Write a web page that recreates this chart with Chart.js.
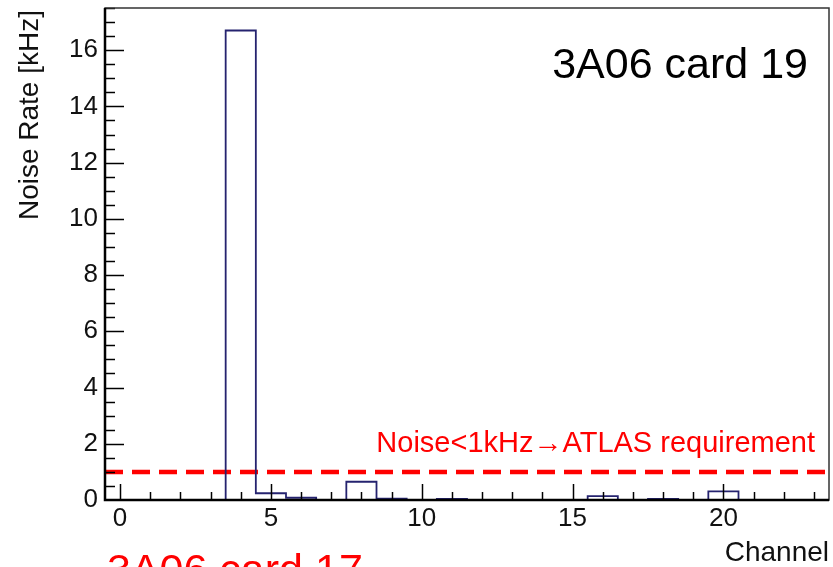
<!DOCTYPE html>
<html>
<head>
<meta charset="utf-8">
<script src="https://cdn.jsdelivr.net/npm/chart.js@4/dist/chart.umd.min.js"></script>
<style>
  body { margin: 0; background: #fff; }
  canvas { display: block; }
</style>
</head>
<body>
<canvas id="noiseChart" width="833" height="567"></canvas>
<script>
// noise rate per channel, 3A06 card 19
const channels = [0, 1, 2, 3, 4, 5, 6, 7, 8, 9, 10, 11, 12, 13, 14, 15, 16, 17, 18, 19, 20, 21, 22, 23];
const noiseRates = [0, 0, 0, 0, 16.7, 0.24, 0.08, 0, 0.65, 0.05, 0, 0.04, 0, 0, 0, 0, 0.14, 0, 0.04, 0, 0.31, 0, 0, 0];
const requirement = 1; // kHz
const xRange = [-0.5, 23.5];
const yRange = [0, 17.5];

const FONT = '"Liberation Sans", Arial, Helvetica, sans-serif';

// histogram outline: left edge of every bin + right edge of the last one
const histPoints = channels.map((c, i) => ({ x: c - 0.5, y: noiseRates[i] }));
histPoints.push({ x: channels[channels.length - 1] + 0.5, y: noiseRates[noiseRates.length - 1] });

// ROOT-like frame, inner ticks and free text
const rootStyle = {
  id: 'rootStyle',
  afterDraw(chart) {
    const { ctx, chartArea: a, scales: { x, y } } = chart;
    ctx.save();
    ctx.strokeStyle = '#000';
    ctx.lineWidth = 1.5;

    // x ticks, major every 5 and minor every 1
    for (let v = 0; v <= xRange[1]; v++) {
      const px = Math.round(x.getPixelForValue(v)) + 0.5;
      const len = v % 5 === 0 ? 16 : 8;
      ctx.beginPath();
      ctx.moveTo(px, a.bottom);
      ctx.lineTo(px, a.bottom - len);
      ctx.stroke();
    }
    // y ticks, major every 2 and minor every 0.5
    for (let v = 0.5; v <= yRange[1]; v += 0.5) {
      const py = Math.round(y.getPixelForValue(v)) + 0.5;
      const len = v % 2 === 0 ? 19 : 10;
      ctx.beginPath();
      ctx.moveTo(a.left, py);
      ctx.lineTo(a.left + len, py);
      ctx.stroke();
    }

    // frame
    ctx.lineWidth = 1.5;
    ctx.strokeStyle = '#333';
    ctx.strokeRect(a.left, a.top, a.right - a.left, a.bottom - a.top);
    ctx.lineWidth = 2.5;
    ctx.strokeStyle = '#000';
    ctx.beginPath();
    ctx.moveTo(a.left, a.top);
    ctx.lineTo(a.left, a.bottom);
    ctx.lineTo(a.right, a.bottom);
    ctx.stroke();

    // axis titles
    ctx.fillStyle = '#111';
    ctx.font = '28px ' + FONT;
    ctx.textAlign = 'right';
    ctx.textBaseline = 'alphabetic';
    ctx.fillText('Channel', a.right, 561);
    ctx.save();
    ctx.translate(38, a.top + 2);
    ctx.rotate(-Math.PI / 2);
    ctx.fillText('Noise Rate [kHz]', 0, 0);
    ctx.restore();

    // labels
    ctx.font = '43px ' + FONT;
    ctx.fillStyle = '#000';
    ctx.textAlign = 'right';
    ctx.fillText('3A06 card 19', 808, 78);

    ctx.fillStyle = '#ff0000';
    ctx.font = '29px ' + FONT;
    ctx.fillText('Noise<1kHz\u2192ATLAS requirement', 815, 452);

    ctx.font = '43px ' + FONT;
    ctx.textAlign = 'left';
    ctx.fillText('3A06 card 17', 107, 584);
    ctx.restore();
  }
};

const noPad = (s) => {
  s.paddingTop = 0;
  s.paddingBottom = 0;
  s.paddingLeft = 0;
  s.paddingRight = 0;
};

new Chart(document.getElementById('noiseChart'), {
  type: 'line',
  data: {
    datasets: [
      {
        label: 'Noise rate',
        data: histPoints,
        stepped: true,
        borderColor: '#25236f',
        borderWidth: 1.8,
        pointRadius: 0,
        fill: false
      },
      {
        label: 'ATLAS requirement',
        data: [{ x: xRange[0], y: requirement }, { x: xRange[1], y: requirement }],
        borderColor: '#ff0000',
        borderWidth: 4.5,
        borderDash: [18, 9],
        pointRadius: 0,
        fill: false
      }
    ]
  },
  options: {
    responsive: false,
    animation: false,
    layout: { padding: { top: 8, right: 4, left: 0, bottom: 0 } },
    plugins: {
      legend: { display: false },
      tooltip: { enabled: false }
    },
    scales: {
      x: {
        type: 'linear',
        min: xRange[0],
        max: xRange[1],
        grid: { display: false, drawTicks: false },
        border: { display: false },
        ticks: {
          stepSize: 5,
          includeBounds: false,
          color: '#111',
          padding: 3,
          maxRotation: 0,
          font: { size: 26, family: FONT }
        },
        afterFit: (s) => { s.height = 67; noPad(s); }
      },
      y: {
        min: yRange[0],
        max: yRange[1],
        grid: { display: false, drawTicks: false },
        border: { display: false },
        ticks: {
          stepSize: 2,
          includeBounds: false,
          color: '#111',
          padding: 7,
          font: { size: 26, family: FONT }
        },
        afterFit: (s) => { s.width = 105; noPad(s); }
      }
    }
  },
  plugins: [rootStyle]
});
</script>
</body>
</html>
